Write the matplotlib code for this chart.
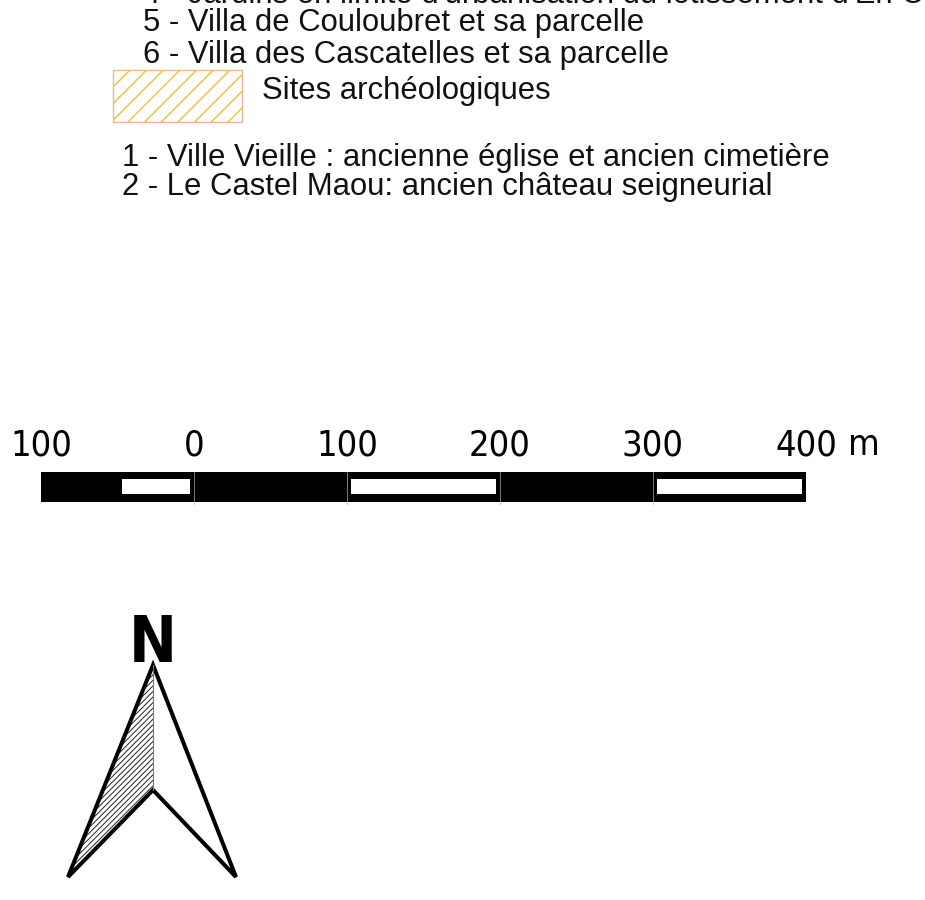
import matplotlib
matplotlib.use('Agg')
import matplotlib.pyplot as plt
from matplotlib.patches import Rectangle, Polygon

# ---- data ----
legend_lines_top = [
    "4 - Jardins en limite d'urbanisation du lotissement d'En Couloubret",
    "5 - Villa de Couloubret et sa parcelle",
    "6 - Villa des Cascatelles et sa parcelle",
]
arch_label = "Sites archéologiques"
arch_sites = [
    "1 - Ville Vieille : ancienne église et ancien cimetière",
    "2 - Le Castel Maou: ancien château seigneurial",
]
scale_ticks_m = [-100, 0, 100, 200, 300, 400]
scale_labels = ["100", "0", "100", "200", "300", "400"]
scale_unit = "m"
white_segments_m = [(-50, 0), (100, 200), (300, 400)]
north_label = "N"

W, H = 925, 900
fig = plt.figure(figsize=(W / 100, H / 100), dpi=100)
fig.patch.set_facecolor('white')

ax = fig.add_axes([0, 0, 1, 1])
ax.set_xlim(0, W)
ax.set_ylim(H, 0)
ax.axis('off')

txt_font = ['Liberation Sans', 'DejaVu Sans']
fs = 22.3
# legend text lines (first one is cut by the top edge, as in the reference)
for txt, yb in zip(legend_lines_top, [3, 31, 63]):
    ax.text(143, yb, txt, fontsize=fs, family=txt_font, va='baseline', ha='left', color='#111111')

# hatched legend box
plt.rcParams['hatch.linewidth'] = 1.1
ax.add_patch(Rectangle((113, 70), 129, 52, facecolor='white', edgecolor='#eec445',
                       hatch='//', linewidth=0))
ax.add_patch(Rectangle((113, 70), 129, 52, facecolor='none', edgecolor='#e8b890', linewidth=1))
ax.text(262, 99, arch_label, fontsize=fs, family=txt_font, va='baseline', ha='left', color='#111111')

for txt, yb in zip(arch_sites, [166, 195]):
    ax.text(122, yb, txt, fontsize=fs, family=txt_font, va='baseline', ha='left', color='#111111')

# ---- scale bar in metres ----
px_per_m = 1.53
x0_px = 41
sax = fig.add_axes([0, 0, 1, 1])
sax.set_xlim(-100 - x0_px / px_per_m, -100 + (W - x0_px) / px_per_m)
sax.set_ylim(H, 0)
sax.axis('off')
sax.patch.set_alpha(0)

sax.add_patch(Rectangle((scale_ticks_m[0], 472), scale_ticks_m[-1] - scale_ticks_m[0], 30,
                        facecolor='black', edgecolor='none'))
ins = 4 / px_per_m
for a, b in white_segments_m:
    sax.add_patch(Rectangle((a + ins, 479), (b - a) - 2 * ins, 15, facecolor='white', edgecolor='none'))
for m in scale_ticks_m[1:-1]:
    sax.plot([m, m], [472, 504], color='#aaaaaa', lw=0.5)

for m, lab in zip(scale_ticks_m, scale_labels):
    sax.text(m, 455, lab, fontsize=26, family='DejaVu Sans', fontstretch='condensed',
             ha='center', va='baseline', color='black')
ax.text(864, 455, scale_unit, fontsize=26, family='DejaVu Sans', fontstretch='condensed',
        ha='center', va='baseline', color='black')

# ---- north arrow ----
ax.text(153, 662, north_label, fontsize=46, fontweight='bold', family='DejaVu Sans',
        fontstretch='condensed', ha='center', va='baseline', color='black')
tip, left, notch, right = (153, 665), (68, 877), (153, 790), (236, 877)
plt.rcParams['hatch.linewidth'] = 0.7
ax.add_patch(Polygon([tip, left, notch], closed=True, facecolor='white', edgecolor='#222222',
                     hatch='//////', linewidth=0))
ax.plot([tip[0], notch[0]], [tip[1], notch[1]], color='#777777', lw=0.8)
ax.add_patch(Polygon([tip, right, notch, left], closed=True, facecolor='none',
                     edgecolor='black', linewidth=2.9, joinstyle='miter'))

fig.savefig('out.png', dpi=100, facecolor='white')
